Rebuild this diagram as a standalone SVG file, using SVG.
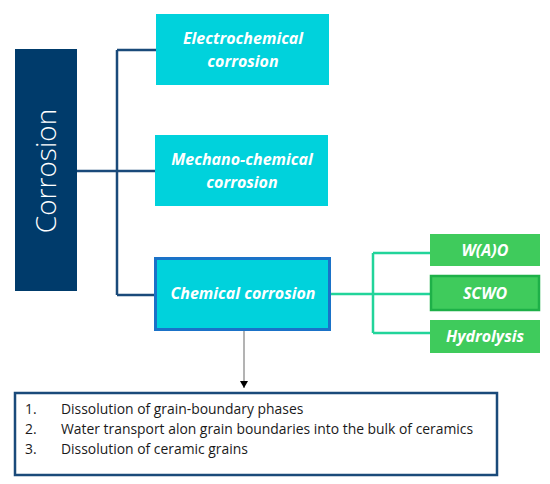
<svg xmlns="http://www.w3.org/2000/svg" width="550" height="484" viewBox="0 0 550 484">
<style>
.cy{fill:#00d2dc}
.gr{fill:#3fcb5c}
.lbl{font-family:"Open Sans","Liberation Sans",sans-serif;font-style:italic;font-weight:bold;font-size:16px;fill:#fff;text-anchor:middle}
.lst{font-family:"Open Sans","Liberation Sans",sans-serif;font-size:13.9px;fill:#1a1a1a}
.nav{fill:none;stroke:#1a4a7a;stroke-width:2.5}
.mint{fill:none;stroke:#22d49a;stroke-width:2.5}
</style>
<defs>
<marker id="ah" markerWidth="8" markerHeight="8" refX="7" refY="4" orient="auto" markerUnits="userSpaceOnUse">
<path d="M0,0 L7,4 L0,8 Z" fill="#000"/>
</marker>
</defs>
<rect width="550" height="484" fill="#fff"/>
<g id="connectors">
<path class="nav" d="M77,171 H155 M117,50 V295 M117,50 H156 M117,295 H154"/>
<path class="mint" d="M330,294 H430 M373,253 V333 M373,253 H430 M373,333 H430"/>
<line x1="244" y1="331" x2="244" y2="388" stroke="#808080" stroke-width="1.2" marker-end="url(#ah)"/>
</g>
<g id="corrosion">
<rect x="15" y="49" width="62" height="242" fill="#003b6b"/>
<text transform="translate(56,171) rotate(-90)" text-anchor="middle" font-family="'Open Sans','Liberation Sans',sans-serif" font-size="28" font-weight="300" fill="#fff">Corrosion</text>
</g>
<g id="electrochemical">
<rect class="cy" x="156" y="14" width="173" height="71"/>
<text class="lbl" x="243" y="44">Electrochemical</text>
<text class="lbl" x="243" y="67">corrosion</text>
</g>
<g id="mechano">
<rect class="cy" x="155" y="135" width="173" height="71"/>
<text class="lbl" x="242" y="165">Mechano-chemical</text>
<text class="lbl" x="242" y="188">corrosion</text>
</g>
<g id="chemical">
<rect class="cy" x="155.5" y="258.5" width="174" height="71" stroke="#1a72c8" stroke-width="3"/>
<text class="lbl" x="243" y="299">Chemical corrosion</text>
</g>
<g id="wao">
<rect class="gr" x="430" y="234" width="110" height="32"/>
<text class="lbl" x="485" y="256">W(A)O</text>
</g>
<g id="scwo">
<rect class="gr" x="431" y="276" width="108" height="34" stroke="#1eb048" stroke-width="2.5"/>
<text class="lbl" x="485" y="299">SCWO</text>
</g>
<g id="hydrolysis">
<rect class="gr" x="430" y="320" width="110" height="33"/>
<text class="lbl" x="485" y="342">Hydrolysis</text>
</g>
<g id="steps">
<rect x="15" y="393" width="482" height="82" fill="#fff" stroke="#1a4a7a" stroke-width="2.5"/>
<text class="lst" x="25" y="414">1.</text>
<text class="lst" x="61" y="414">Dissolution of grain-boundary phases</text>
<text class="lst" x="25" y="434">2.</text>
<text class="lst" x="61" y="434">Water transport alon grain boundaries into the bulk of ceramics</text>
<text class="lst" x="25" y="454">3.</text>
<text class="lst" x="61" y="454">Dissolution of ceramic grains</text>
</g>
</svg>
